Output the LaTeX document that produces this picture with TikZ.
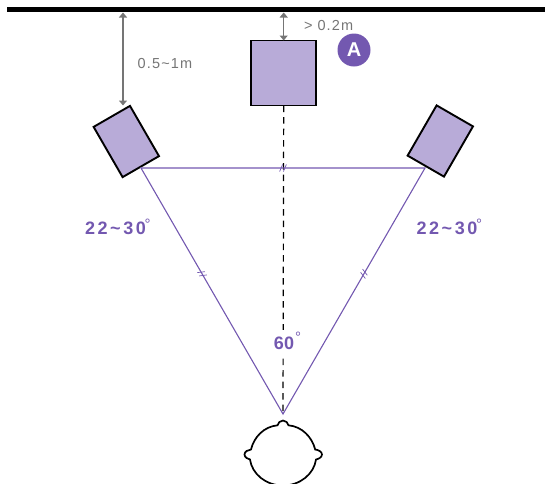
\documentclass[tikz,border=0pt]{standalone}
\usepackage{fontspec}
\setmainfont{Liberation Sans}
\newfontfamily\labfont[LetterSpace=8]{Liberation Sans}
\newfontfamily\angfont[LetterSpace=14]{Liberation Sans}
\definecolor{vio}{HTML}{7358B0}
\definecolor{lil}{HTML}{B8ABD8}
\definecolor{gry}{HTML}{757575}
\usetikzlibrary{arrows.meta}
\tikzset{
 spk/.style={draw=black,line width=1.9pt,fill=lil,rectangle,inner sep=0pt,outer sep=0pt},
 tri/.style={draw=vio,line width=1.1pt},
 tick/.style={draw=vio,line width=0.7pt},
 dim/.style={draw=gry,line width=1.3pt,{Triangle[length=5pt,width=8pt,fill=gry]}-{Triangle[length=5pt,width=8pt,fill=gry]}},
 lab/.style={text=gry,font=\labfont\fontsize{14.5}{14.5}\selectfont,inner sep=0pt},
 ang/.style={text=vio,font=\angfont\fontsize{18}{18}\selectfont\bfseries,inner sep=0pt},
 deg/.style={text=vio,font=\fontsize{15}{15}\selectfont,inner sep=0pt},
}
\begin{document}
\begin{tikzpicture}[x=1pt,y=-1pt]
\useasboundingbox (0,0) rectangle (545,483);
\fill[black] (7,6.7) rectangle (545,12.3);
\coordinate (wallL) at (123,12.5);
\coordinate (wallC) at (283.7,12.5);
\node[spk,minimum width=65pt,minimum height=65pt] (C) at (283.7,73) {};
\node[spk,rotate=30,minimum width=42pt,minimum height=58pt] (L) at (126.3,141.5) {};
\node[spk,rotate=-30,minimum width=42pt,minimum height=58pt] (R) at (440.3,141) {};
\coordinate (topL) at (123,105.5);
\coordinate (a) at (141,168);
\coordinate (b) at (425,168);
\coordinate (c) at (283,414);
\draw[dim] (wallL) -- (topL);
\draw[dim] (wallC) -- (C.north);
\draw[black,line width=1.2pt,dash pattern=on 6.5pt off 5pt] (C.south) -- (c);
\draw[tri] (a) -- (b) -- (c) -- cycle;
\path (a) -- (b) coordinate[pos=.5] (mab);
\path (a) -- (c) coordinate[pos=.43] (mac);
\path (b) -- (c) coordinate[pos=.43] (mbc);
\foreach \p/\q in {mab/0,mac/-60,mbc/60}{
 \begin{scope}[shift={(\p)},rotate=\q]
 \draw[tick] (-3.4,3.6) -- (-0.4,-3.6);
 \draw[tick] (0.4,3.6) -- (3.4,-3.6);
 \end{scope}
}
\node[lab,anchor=west] (t1) at (137.5,63.5) {0.5\char"007E 1m};
\node[lab,anchor=west] (t2) at (304,26) {>\,\,0.2m};
\node[circle,fill=vio,minimum size=33pt,inner sep=0pt,text=white,font=\fontsize{20}{20}\selectfont\bfseries] (A) at (354,50) {A};
\node[ang,anchor=west] (l1) at (85,228.5) {22\char"007E 30};
\node[deg] (d1) at (147.5,224) {°};
\node[ang,anchor=west] (l2) at (416.5,228.5) {22\char"007E 30};
\node[deg] (d2) at (479,224) {°};
\node[text=vio,font=\fontsize{18}{18}\selectfont\bfseries,inner xsep=1pt,inner ysep=7.5pt,fill=white,anchor=center] (l3) at (284,343.5) {60};
\node[deg] (d3) at (298,337) {°};
% head
\draw[black,line width=1.7pt,fill=white]
 (283,420.5)
 .. controls (286,420.5) and (288,423) .. (288.5,425.3)
 .. controls (302,426.5) and (312,437) .. (315.2,449.5)
 .. controls (318,449.8) and (322,451.5) .. (322,454.5)
 .. controls (322,457.5) and (318,459) .. (316,459.5)
 .. controls (314,474) and (300,485.5) .. (283,485.5)
 .. controls (266,485.5) and (252,474) .. (250,459.5)
 .. controls (248,459) and (244.5,457.5) .. (244.5,454.5)
 .. controls (244.5,451.5) and (248,449.8) .. (251,449.5)
 .. controls (254,437) and (264,426.5) .. (277.5,425.3)
 .. controls (278,423) and (280,420.5) .. (283,420.5) -- cycle;
\end{tikzpicture}
\end{document}
